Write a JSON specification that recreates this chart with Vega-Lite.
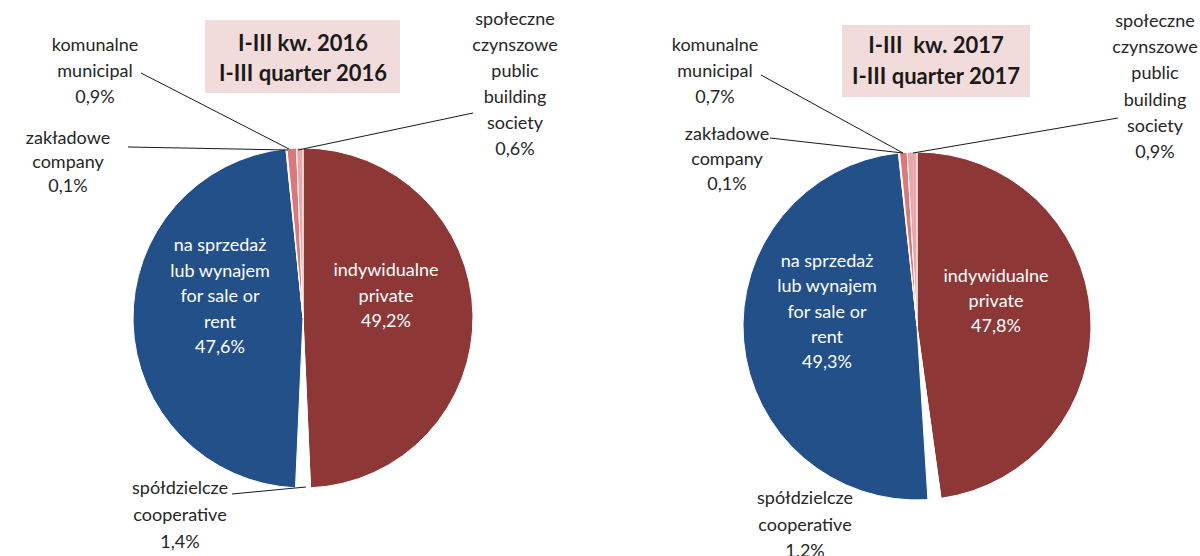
{
  "$schema": "https://vega.github.io/schema/vega-lite/v6.json",
  "background": "white",
  "padding": 0,
  "spacing": 0,
  "config": {"view": {"stroke": null}, "font": "Lato"},
  "datasets": {
    "y2016": [
      {"category": "indywidualne", "ord": 1, "share": 49.2, "label": "indywidualne\nprivate\n49,2%"},
      {"category": "spółdzielcze", "ord": 2, "share": 1.4, "label": "spółdzielcze\ncooperative\n1,4%"},
      {"category": "na sprzedaż lub wynajem", "ord": 3, "share": 47.6, "label": "na sprzedaż\nlub wynajem\nfor sale or\nrent\n47,6%"},
      {"category": "zakładowe", "ord": 4, "share": 0.1, "label": "zakładowe\ncompany\n0,1%"},
      {"category": "komunalne", "ord": 5, "share": 0.9, "label": "komunalne\nmunicipal\n0,9%"},
      {"category": "społeczne czynszowe", "ord": 6, "share": 0.6, "label": "społeczne\nczynszowe\npublic\nbuilding\nsociety\n0,6%"}
    ],
    "y2017": [
      {"category": "indywidualne", "ord": 1, "share": 47.8, "label": "indywidualne\nprivate\n47,8%"},
      {"category": "spółdzielcze", "ord": 2, "share": 1.2, "label": "spółdzielcze\ncooperative\n1.2%"},
      {"category": "na sprzedaż lub wynajem", "ord": 3, "share": 49.3, "label": "na sprzedaż\nlub wynajem\nfor sale or\nrent\n49,3%"},
      {"category": "zakładowe", "ord": 4, "share": 0.1, "label": "zakładowe\ncompany\n0,1%"},
      {"category": "komunalne", "ord": 5, "share": 0.7, "label": "komunalne\nmunicipal\n0,7%"},
      {"category": "społeczne czynszowe", "ord": 6, "share": 0.9, "label": "społeczne\nczynszowe\npublic\nbuilding\nsociety\n0,9%"}
    ]
  },
  "hconcat": [
    {
      "width": 600,
      "height": 556,
      "data": {"name": "y2016"},
      "layer": [
        {
          "data": {"values": [{"title": "I-III kw. 2016\nI-III quarter 2016"}]},
          "mark": {"type": "rect", "fill": "#F2DCDB"},
          "encoding": {
            "x": {"datum": -98, "type": "quantitative", "scale": {"domain": [-303, 297], "nice": false, "zero": false}, "axis": null},
            "x2": {"datum": 97},
            "y": {"datum": 298, "type": "quantitative", "scale": {"domain": [-238, 318], "nice": false, "zero": false}, "axis": null},
            "y2": {"datum": 225}
          }
        },
        {
          "data": {"values": [{"title": "I-III kw. 2016\nI-III quarter 2016"}]},
          "mark": {"type": "text", "fontSize": 22, "fontWeight": "bold", "color": "#1a1a1a", "lineBreak": "\n", "lineHeight": 30, "baseline": "middle", "align": "center"},
          "encoding": {
            "x": {"datum": 0, "type": "quantitative"},
            "y": {"datum": 274, "type": "quantitative"},
            "text": {"field": "title"}
          }
        },
        {
          "mark": {"type": "arc", "outerRadius": 170, "stroke": "white", "strokeWidth": 1},
          "encoding": {
            "x": {"datum": 0, "type": "quantitative"},
            "y": {"datum": 0, "type": "quantitative"},
            "theta": {"field": "share", "type": "quantitative", "stack": true},
            "order": {"field": "ord", "type": "quantitative"},
            "color": {"field": "category", "type": "nominal", "legend": null,
              "scale": {"domain": ["indywidualne", "spółdzielcze", "na sprzedaż lub wynajem", "zakładowe", "komunalne", "społeczne czynszowe"],
                        "range": ["#8E3737", "#FFFFFF", "#24508A", "#F0C8C8", "#D9797A", "#E8A7A8"]}}
          }
        },
        {
          "transform": [{"filter": "datum.category === 'komunalne'"}],
          "mark": {"type": "rule", "color": "#1a1a1a", "strokeWidth": 1},
          "encoding": {"x": {"datum": -162, "type": "quantitative"}, "y": {"datum": 245, "type": "quantitative"}, "x2": {"datum": -14}, "y2": {"datum": 169}}
        },
        {
          "transform": [{"filter": "datum.category === 'zakładowe'"}],
          "mark": {"type": "rule", "color": "#1a1a1a", "strokeWidth": 1},
          "encoding": {"x": {"datum": -175, "type": "quantitative"}, "y": {"datum": 171, "type": "quantitative"}, "x2": {"datum": -15}, "y2": {"datum": 168}}
        },
        {
          "transform": [{"filter": "datum.category === 'społeczne czynszowe'"}],
          "mark": {"type": "rule", "color": "#1a1a1a", "strokeWidth": 1},
          "encoding": {"x": {"datum": -5, "type": "quantitative"}, "y": {"datum": 168, "type": "quantitative"}, "x2": {"datum": 170}, "y2": {"datum": 205}}
        },
        {
          "transform": [{"filter": "datum.category === 'spółdzielcze'"}],
          "mark": {"type": "rule", "color": "#1a1a1a", "strokeWidth": 1},
          "encoding": {"x": {"datum": -71, "type": "quantitative"}, "y": {"datum": -176, "type": "quantitative"}, "x2": {"datum": 3}, "y2": {"datum": -169}}
        },
        {
          "transform": [{"filter": "datum.category === 'komunalne'"}],
          "mark": {"type": "text", "fontSize": 18, "color": "#262626", "lineBreak": "\n", "lineHeight": 26, "baseline": "middle", "align": "center"},
          "encoding": {"x": {"datum": -208, "type": "quantitative"}, "y": {"datum": 272, "type": "quantitative"}, "text": {"field": "label"}}
        },
        {
          "transform": [{"filter": "datum.category === 'zakładowe'"}],
          "mark": {"type": "text", "fontSize": 18, "color": "#262626", "lineBreak": "\n", "lineHeight": 24, "baseline": "middle", "align": "center"},
          "encoding": {"x": {"datum": -235, "type": "quantitative"}, "y": {"datum": 179, "type": "quantitative"}, "text": {"field": "label"}}
        },
        {
          "transform": [{"filter": "datum.category === 'społeczne czynszowe'"}],
          "mark": {"type": "text", "fontSize": 18, "color": "#262626", "lineBreak": "\n", "lineHeight": 26, "baseline": "middle", "align": "center"},
          "encoding": {"x": {"datum": 212, "type": "quantitative"}, "y": {"datum": 298, "type": "quantitative"}, "text": {"field": "label"}}
        },
        {
          "transform": [{"filter": "datum.category === 'spółdzielcze'"}],
          "mark": {"type": "text", "fontSize": 18, "color": "#262626", "lineBreak": "\n", "lineHeight": 27, "baseline": "middle", "align": "center"},
          "encoding": {"x": {"datum": -123, "type": "quantitative"}, "y": {"datum": -171, "type": "quantitative"}, "text": {"field": "label"}}
        },
        {
          "transform": [{"filter": "datum.category === 'indywidualne'"}],
          "mark": {"type": "text", "fontSize": 18, "color": "white", "lineBreak": "\n", "lineHeight": 25.5, "baseline": "middle", "align": "center"},
          "encoding": {"x": {"datum": 83, "type": "quantitative"}, "y": {"datum": 47, "type": "quantitative"}, "text": {"field": "label"}}
        },
        {
          "transform": [{"filter": "datum.category === 'na sprzedaż lub wynajem'"}],
          "mark": {"type": "text", "fontSize": 18, "color": "white", "lineBreak": "\n", "lineHeight": 25.5, "baseline": "middle", "align": "center"},
          "encoding": {"x": {"datum": -83, "type": "quantitative"}, "y": {"datum": 72, "type": "quantitative"}, "text": {"field": "label"}}
        }
      ]
    },
    {
      "width": 600,
      "height": 556,
      "data": {"name": "y2017"},
      "layer": [
        {
          "data": {"values": [{"title": "I-III  kw. 2017\nI-III quarter 2017"}]},
          "mark": {"type": "rect", "fill": "#F2DCDB"},
          "encoding": {
            "x": {"datum": -75, "type": "quantitative", "scale": {"domain": [-317, 283], "nice": false, "zero": false}, "axis": null},
            "x2": {"datum": 113},
            "y": {"datum": 301, "type": "quantitative", "scale": {"domain": [-230, 326], "nice": false, "zero": false}, "axis": null},
            "y2": {"datum": 229}
          }
        },
        {
          "data": {"values": [{"title": "I-III\u00a0\u00a0kw. 2017\nI-III quarter 2017"}]},
          "mark": {"type": "text", "fontSize": 22, "fontWeight": "bold", "color": "#1a1a1a", "lineBreak": "\n", "lineHeight": 31, "baseline": "middle", "align": "center"},
          "encoding": {
            "x": {"datum": 19, "type": "quantitative"},
            "y": {"datum": 280, "type": "quantitative"},
            "text": {"field": "title"}
          }
        },
        {
          "mark": {"type": "arc", "outerRadius": 174, "stroke": "white", "strokeWidth": 1},
          "encoding": {
            "x": {"datum": 0, "type": "quantitative"},
            "y": {"datum": 0, "type": "quantitative"},
            "theta": {"field": "share", "type": "quantitative", "stack": true},
            "order": {"field": "ord", "type": "quantitative"},
            "color": {"field": "category", "type": "nominal", "legend": null,
              "scale": {"domain": ["indywidualne", "spółdzielcze", "na sprzedaż lub wynajem", "zakładowe", "komunalne", "społeczne czynszowe"],
                        "range": ["#8E3737", "#FFFFFF", "#24508A", "#F0C8C8", "#D9797A", "#E8A7A8"]}}
          }
        },
        {
          "transform": [{"filter": "datum.category === 'komunalne'"}],
          "mark": {"type": "rule", "color": "#1a1a1a", "strokeWidth": 1},
          "encoding": {"x": {"datum": -156, "type": "quantitative"}, "y": {"datum": 251, "type": "quantitative"}, "x2": {"datum": -14}, "y2": {"datum": 173}}
        },
        {
          "transform": [{"filter": "datum.category === 'zakładowe'"}],
          "mark": {"type": "rule", "color": "#1a1a1a", "strokeWidth": 1},
          "encoding": {"x": {"datum": -147, "type": "quantitative"}, "y": {"datum": 188, "type": "quantitative"}, "x2": {"datum": -14}, "y2": {"datum": 173}}
        },
        {
          "transform": [{"filter": "datum.category === 'społeczne czynszowe'"}],
          "mark": {"type": "rule", "color": "#1a1a1a", "strokeWidth": 1},
          "encoding": {"x": {"datum": -4, "type": "quantitative"}, "y": {"datum": 173, "type": "quantitative"}, "x2": {"datum": 201}, "y2": {"datum": 208}}
        },
        {
          "transform": [{"filter": "datum.category === 'komunalne'"}],
          "mark": {"type": "text", "fontSize": 18, "color": "#262626", "lineBreak": "\n", "lineHeight": 26, "baseline": "middle", "align": "center"},
          "encoding": {"x": {"datum": -202, "type": "quantitative"}, "y": {"datum": 280, "type": "quantitative"}, "text": {"field": "label"}}
        },
        {
          "transform": [{"filter": "datum.category === 'zakładowe'"}],
          "mark": {"type": "text", "fontSize": 18, "color": "#262626", "lineBreak": "\n", "lineHeight": 25, "baseline": "middle", "align": "center"},
          "encoding": {"x": {"datum": -190, "type": "quantitative"}, "y": {"datum": 191, "type": "quantitative"}, "text": {"field": "label"}}
        },
        {
          "transform": [{"filter": "datum.category === 'społeczne czynszowe'"}],
          "mark": {"type": "text", "fontSize": 18, "color": "#262626", "lineBreak": "\n", "lineHeight": 26.2, "baseline": "middle", "align": "center"},
          "encoding": {"x": {"datum": 238, "type": "quantitative"}, "y": {"datum": 304, "type": "quantitative"}, "text": {"field": "label"}}
        },
        {
          "transform": [{"filter": "datum.category === 'spółdzielcze'"}],
          "mark": {"type": "text", "fontSize": 18, "color": "#262626", "lineBreak": "\n", "lineHeight": 26.5, "baseline": "middle", "align": "center"},
          "encoding": {"x": {"datum": -112, "type": "quantitative"}, "y": {"datum": -173, "type": "quantitative"}, "text": {"field": "label"}}
        },
        {
          "transform": [{"filter": "datum.category === 'indywidualne'"}],
          "mark": {"type": "text", "fontSize": 18, "color": "white", "lineBreak": "\n", "lineHeight": 25, "baseline": "middle", "align": "center"},
          "encoding": {"x": {"datum": 79, "type": "quantitative"}, "y": {"datum": 49, "type": "quantitative"}, "text": {"field": "label"}}
        },
        {
          "transform": [{"filter": "datum.category === 'na sprzedaż lub wynajem'"}],
          "mark": {"type": "text", "fontSize": 18, "color": "white", "lineBreak": "\n", "lineHeight": 25.3, "baseline": "middle", "align": "center"},
          "encoding": {"x": {"datum": -90, "type": "quantitative"}, "y": {"datum": 64, "type": "quantitative"}, "text": {"field": "label"}}
        }
      ]
    }
  ]
}
